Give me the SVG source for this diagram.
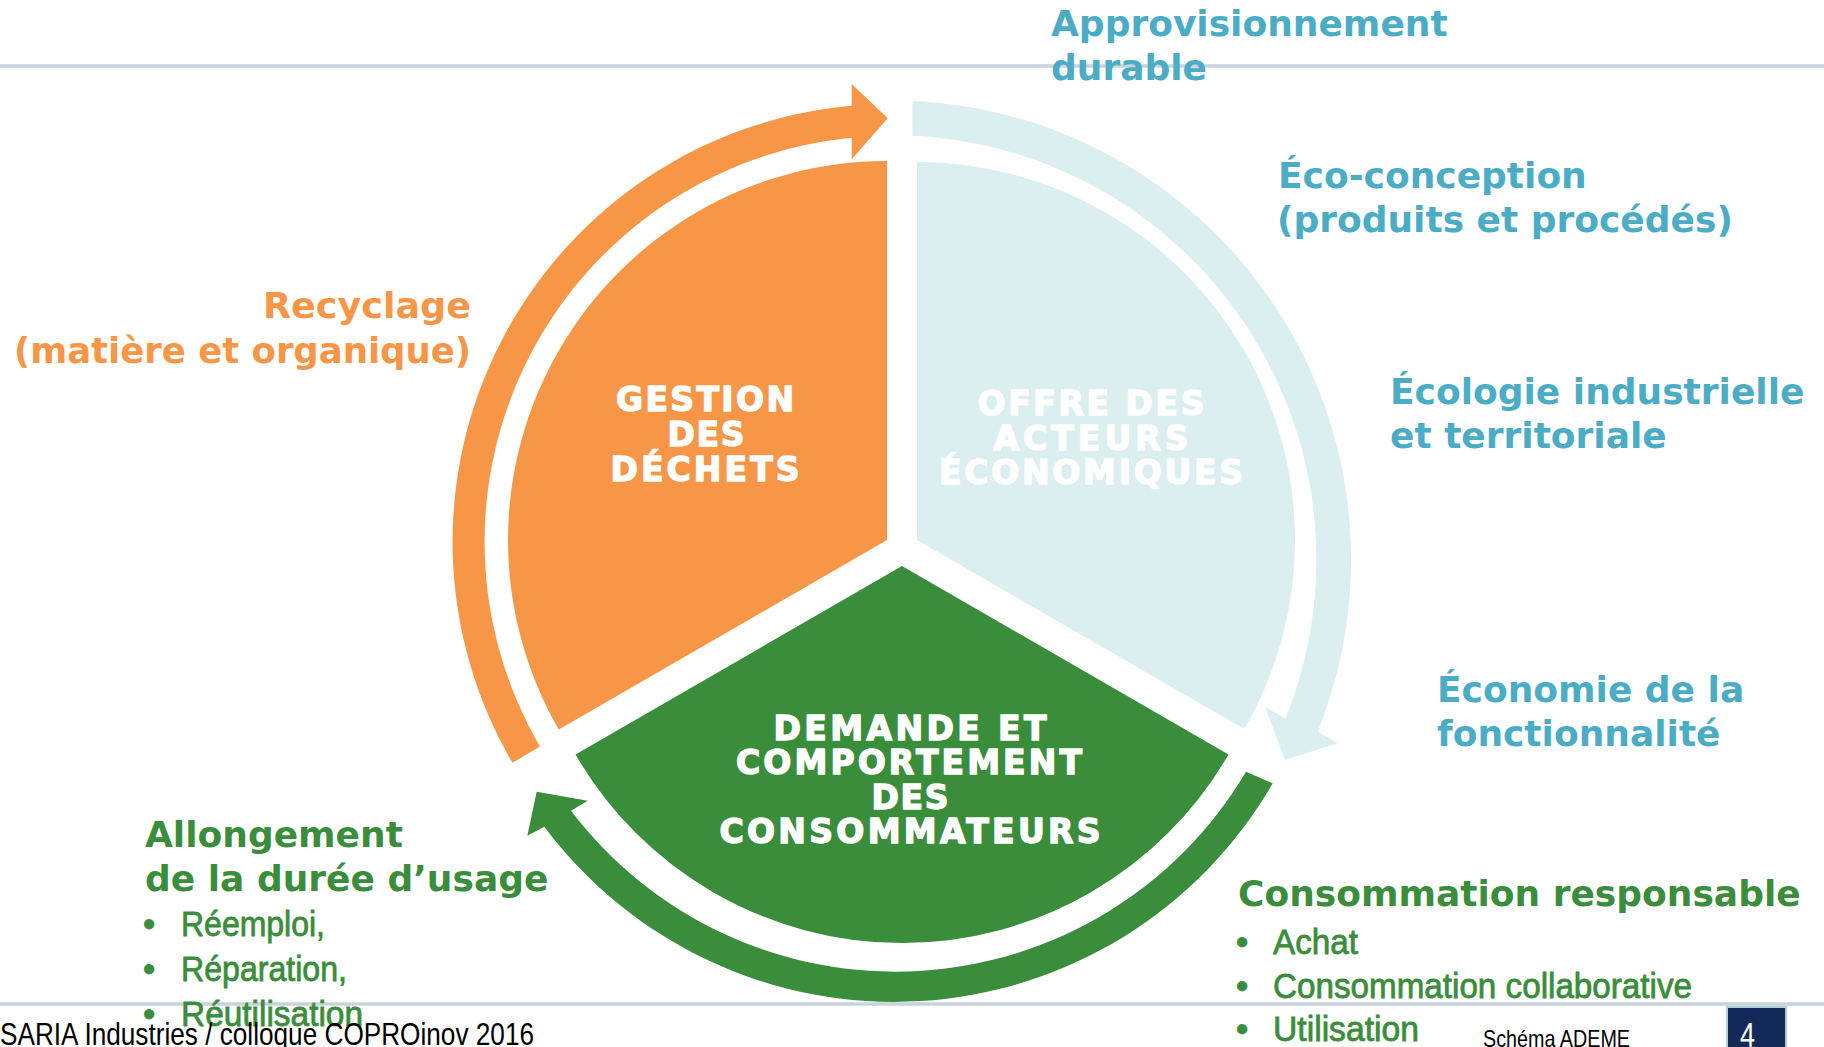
<svg xmlns="http://www.w3.org/2000/svg" width="1824" height="1047" viewBox="0 0 1824 1047">
<style>
.t{font-family:"DejaVu Sans",Verdana,sans-serif;font-weight:bold;font-size:36px}
.blue{fill:#4BACC6}.orange{fill:#F79646}.green{fill:#3A8D3B}
.item{font-family:"Liberation Sans",Arial,sans-serif;font-size:35px;fill:#3A8D3B;stroke:#3A8D3B;stroke-width:0.8}
.seg{font-family:"DejaVu Sans",Verdana,sans-serif;font-weight:bold;font-size:33px;fill:#fff;stroke:#fff;stroke-width:1.4;text-anchor:middle}
.foot{font-family:"Liberation Sans",Arial,sans-serif;fill:#000}
.rule{stroke:#C8D3DC;stroke-width:3.5}
</style>
<rect width="1824" height="1047" fill="#fff"/>
<line class="rule" x1="0" y1="66" x2="1824" y2="66"/>
<line class="rule" x1="0" y1="1004" x2="1824" y2="1004"/>

<g id="connectors">
  <path id="arrow-orange" fill="#F79646" d="M 540.0 746.5 A 405.8 405.8 0 0 1 851.7 137.85 L 851.7 159.3 L 887.7 118.3 L 851.7 84 L 851.7 105.7 A 437.8 437.8 0 0 0 512.4 762.7 Z"/>
  <path id="arrow-blue" fill="#DBEEF0" d="M 912.5 101 A 459 459 0 0 1 1317.7 731.4 L 1337.3 743.3 L 1285 760 L 1265 706.7 L 1285.5 718.4 A 424.3 424.3 0 0 0 912.5 135.7 Z"/>
  <path id="arrow-green" fill="#3A8D3B" d="M 1272.7 783.3 A 437 437 0 0 1 544.3 826.7 L 527.3 835.7 L 536.7 791.7 L 587.7 800.7 L 571 810.7 A 407.4 407.4 0 0 0 1246 771.7 Z"/>
</g>

<g id="node-gestion">
  <path fill="#F79646" d="M 887 540 L 558.8 729.5 A 379 379 0 0 1 887 161 Z"/>
  <text class="seg" x="705" y="411" textLength="178" lengthAdjust="spacing">GESTION</text>
  <text class="seg" x="706" y="446" textLength="77" lengthAdjust="spacing">DES</text>
  <text class="seg" x="705" y="481" textLength="189" lengthAdjust="spacing">DÉCHETS</text>
</g>

<g id="node-offre">
  <path fill="#DBEEF0" d="M 917 540 L 917 162 A 378 378 0 0 1 1244.4 729 Z"/>
  <text class="seg" x="1091" y="415" textLength="227" lengthAdjust="spacing">OFFRE DES</text>
  <text class="seg" x="1091" y="450" textLength="195" lengthAdjust="spacing">ACTEURS</text>
  <text class="seg" x="1091" y="484" textLength="304" lengthAdjust="spacing">ÉCONOMIQUES</text>
</g>

<g id="node-demande">
  <path fill="#3A8D3B" d="M 902 566 L 1228.5 754.5 A 377 377 0 0 1 575.5 754.5 Z"/>
  <text class="seg" x="910" y="740" textLength="273" lengthAdjust="spacing">DEMANDE ET</text>
  <text class="seg" x="909" y="774" textLength="346" lengthAdjust="spacing">COMPORTEMENT</text>
  <text class="seg" x="910" y="809" textLength="77" lengthAdjust="spacing">DES</text>
  <text class="seg" x="910" y="843" textLength="381" lengthAdjust="spacing">CONSOMMATEURS</text>
</g>

<g id="label-approvisionnement" class="t blue">
  <text x="1051" y="36">Approvisionnement</text>
  <text x="1051" y="80">durable</text>
</g>
<g id="label-eco-conception" class="t blue">
  <text x="1278" y="188">Éco-conception</text>
  <text x="1277" y="232">(produits et procédés)</text>
</g>
<g id="label-ecologie" class="t blue">
  <text x="1390" y="404">Écologie industrielle</text>
  <text x="1390" y="448">et territoriale</text>
</g>
<g id="label-economie" class="t blue">
  <text x="1437" y="702">Économie de la</text>
  <text x="1437" y="746">fonctionnalité</text>
</g>
<g id="label-recyclage" class="t orange" text-anchor="end">
  <text x="471" y="318" textLength="208" lengthAdjust="spacingAndGlyphs">Recyclage</text>
  <text x="471" y="363" textLength="457" lengthAdjust="spacingAndGlyphs">(matière et organique)</text>
</g>
<g id="label-allongement">
  <text class="t green" x="145" y="847">Allongement</text>
  <text class="t green" x="145" y="891">de la durée d’usage</text>
  <text class="item" x="143" y="936">•</text>
  <text class="item" x="181" y="936" textLength="144" lengthAdjust="spacingAndGlyphs">Réemploi,</text>
  <text class="item" x="143" y="981">•</text>
  <text class="item" x="181" y="981" textLength="166" lengthAdjust="spacingAndGlyphs">Réparation,</text>
  <text class="item" x="143" y="1026">•</text>
  <text class="item" x="181" y="1026" textLength="182" lengthAdjust="spacingAndGlyphs">Réutilisation</text>
</g>
<g id="label-consommation">
  <text class="t green" x="1238" y="906">Consommation responsable</text>
  <text class="item" x="1236" y="954">•</text>
  <text class="item" x="1273" y="954" textLength="85" lengthAdjust="spacingAndGlyphs">Achat</text>
  <text class="item" x="1236" y="998">•</text>
  <text class="item" x="1273" y="998" textLength="419" lengthAdjust="spacingAndGlyphs">Consommation collaborative</text>
  <text class="item" x="1236" y="1041">•</text>
  <text class="item" x="1273" y="1041" textLength="146" lengthAdjust="spacingAndGlyphs">Utilisation</text>
</g>

<g id="footer">
  <text class="foot" x="0" y="1045" font-size="32" textLength="534" lengthAdjust="spacingAndGlyphs">SARIA Industries / colloque COPROinov 2016</text>
  <text class="foot" x="1483" y="1046.5" font-size="24" textLength="147" lengthAdjust="spacingAndGlyphs">Schéma ADEME</text>
  <rect x="1727" y="1007" width="59" height="48" fill="#132A58" stroke="#B2CFD9" stroke-width="2"/>
  <text x="1740" y="1047" font-family="Liberation Sans, Arial, sans-serif" font-size="35" fill="#fff" textLength="15" lengthAdjust="spacingAndGlyphs">4</text>
</g>
</svg>
